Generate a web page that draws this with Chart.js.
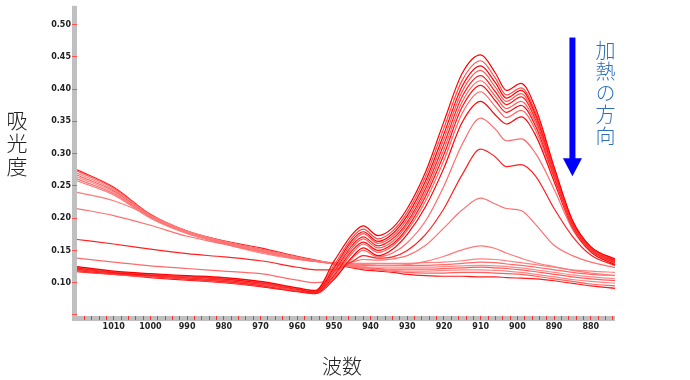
<!DOCTYPE html>
<html><head><meta charset="utf-8">
<script src="https://cdn.jsdelivr.net/npm/chart.js@4.4.1/dist/chart.umd.min.js"></script>
<style>
html,body{margin:0;padding:0;background:#fff;}
#wrap{position:relative;width:690px;height:380px;overflow:hidden;}
canvas{position:absolute;left:0;top:0;}
.lbl{position:absolute;font-family:"Noto Sans CJK JP","Noto Sans CJK SC",sans-serif;font-weight:300;line-height:1;}
#ylab{left:6px;top:110px;writing-mode:vertical-rl;font-size:21px;letter-spacing:2px;color:#222;}
#xlab{left:322px;top:356px;font-size:20px;color:#222;}
#note{left:595px;top:40px;writing-mode:vertical-rl;font-size:20px;letter-spacing:1.6px;color:#2e6fba;}
</style></head>
<body><div id="wrap"><canvas id="c" width="690" height="380"></canvas>
<div class="lbl" id="ylab">吸光度</div>
<div class="lbl" id="xlab">波数</div>
<div class="lbl" id="note">加熱の方向</div>
</div>
<script>
// wavenumbers (cm-1)
const waves = [1020,1010,1000,990,980,970,960,955,950,945,942,938,934,930,925,920,915,910,906,903,899,895,890,885,880,873];
// absorbance spectra, before heating (large peak) -> after heating (flat)
const p1 = [.125,.118,.114,.111,.108,.102,.092,.088,.133,.175,.188,.173,.185,.215,.272,.350,.425,.453,.425,.398,.409,.370,.280,.197,.156,.136];
const p2 = [.124,.117,.113,.110,.107,.101,.091,.087,.127,.170,.183,.168,.180,.209,.265,.340,.414,.444,.417,.391,.402,.364,.277,.196,.155,.135];
const p3 = [.123,.116,.112,.110,.106,.100,.090,.086,.123,.166,.179,.164,.176,.204,.258,.331,.405,.436,.410,.386,.398,.360,.275,.195,.155,.134];
const p4 = [.122,.116,.112,.109,.105,.099,.089,.086,.120,.162,.176,.161,.172,.199,.252,.323,.397,.429,.403,.381,.393,.356,.273,.194,.154,.133];
const p5 = [.121,.115,.111,.108,.104,.098,.089,.085,.117,.158,.171,.157,.168,.194,.246,.315,.389,.421,.396,.376,.388,.352,.271,.193,.153,.132];
const p6 = [.120,.115,.110,.107,.103,.097,.088,.085,.114,.154,.168,.154,.164,.190,.240,.307,.381,.413,.389,.370,.381,.347,.268,.192,.152,.131];
const p7 = [.119,.114,.110,.106,.102,.096,.087,.084,.111,.150,.163,.150,.160,.185,.234,.299,.373,.406,.382,.364,.375,.342,.265,.190,.151,.130];
const p8 = [.118,.113,.109,.105,.101,.095,.087,.084,.108,.146,.160,.147,.157,.181,.227,.290,.363,.396,.373,.356,.367,.336,.262,.188,.150,.129];
const p9 = [.117,.113,.108,.104,.100,.094,.086,.083,.105,.140,.154,.142,.152,.175,.218,.278,.349,.381,.360,.346,.357,.328,.257,.186,.148,.127];
const i1 = [.138,.132,.126,.122,.118,.114,.104,.100,.108,.138,.150,.140,.146,.162,.196,.250,.315,.355,.338,.320,.323,.300,.245,.183,.148,.128];
const i2 = [.167,.160,.152,.145,.140,.134,.124,.120,.120,.133,.142,.138,.140,.150,.175,.215,.268,.307,.295,.280,.283,.265,.215,.172,.143,.126];
const i3 = [.215,.204,.189,.172,.160,.148,.137,.133,.130,.132,.136,.135,.137,.142,.158,.185,.213,.231,.222,.215,.212,.190,.158,.142,.132,.123];
const i4 = [.240,.227,.204,.180,.164,.150,.139,.134,.130,.128,.128,.127,.127,.128,.133,.141,.151,.157,.153,.146,.138,.131,.125,.119,.115,.111];
const f7 = [.258,.236,.200,.176,.160,.146,.136,.133,.131,.130,.130,.130,.130,.130,.131,.132,.134,.137,.136,.134,.131,.128,.124,.120,.118,.116];
const f6 = [.261,.238,.201,.177,.161,.148,.137,.133,.130,.128,.127,.127,.127,.127,.127,.128,.130,.132,.131,.129,.127,.124,.120,.116,.113,.111];
const f5 = [.264,.240,.202,.178,.162,.149,.138,.133,.130,.127,.125,.124,.124,.124,.124,.125,.126,.127,.126,.125,.123,.120,.116,.112,.109,.106];
const f4 = [.267,.242,.203,.178,.163,.150,.138,.134,.130,.126,.124,.122,.121,.121,.121,.122,.123,.124,.123,.122,.120,.117,.113,.109,.106,.103];
const f3 = [.270,.244,.204,.179,.163,.151,.139,.134,.130,.125,.123,.121,.119,.118,.118,.119,.120,.120,.119,.118,.116,.113,.109,.105,.102,.099];
const f2 = [.273,.246,.205,.180,.164,.152,.140,.134,.129,.124,.122,.120,.118,.116,.115,.115,.116,.116,.115,.114,.113,.110,.106,.102,.098,.095];
const f1 = [.275,.248,.206,.180,.165,.154,.141,.135,.129,.123,.120,.118,.116,.113,.111,.110,.110,.109,.109,.108,.107,.106,.103,.099,.095,.091];

const seriesList = [p1,p2,p3,p4,p5,p6,p7,p8,p9,i1,i2,i3,i4,f7,f6,f5,f4,f3,f2,f1];
const seriesColors = ['#ff0000','#ff4a4a','#ff0000','#ff5555','#ff1a1a','#ff5a5a','#ff1010','#ff6060','#ff0000',
  '#ff6b6b','#ff2020','#ff7070','#ff7a7a','#ff8080','#ff6a6a','#ff8a8a','#ff5a5a','#ff8484','#ff6060','#ff1a1a'];

const yTickVals = [0.05,0.10,0.15,0.20,0.25,0.30,0.35,0.40,0.45,0.50];
const xTickVals = []; for (let w = 874; w <= 1018; w += 2) xTickVals.push(w);
const arrowAt = {x: 885, top: 0.48, base: 0.293, tip: 0.265};

const axisBars = {
  id: 'axisBars',
  beforeDraw(chart) {
    const {ctx, chartArea: a} = chart;
    ctx.save();
    ctx.fillStyle = '#c0c0c0';
    ctx.fillRect(a.left - 5, a.top, 5, a.bottom - a.top + 5);
    ctx.fillRect(a.left - 5, a.bottom, a.right - a.left + 5, 5);
    ctx.restore();
  },
  afterDraw(chart) {
    const {ctx} = chart;
    const xs = chart.scales.x, ys = chart.scales.y;
    const cx = xs.getPixelForValue(arrowAt.x);
    const yT = ys.getPixelForValue(arrowAt.top);
    const yB = ys.getPixelForValue(arrowAt.base);
    const yP = ys.getPixelForValue(arrowAt.tip);
    ctx.save();
    ctx.fillStyle = '#0000ff';
    ctx.fillRect(cx - 3, yT, 6, yB - yT + 1);
    ctx.beginPath();
    ctx.moveTo(cx - 9.5, yB); ctx.lineTo(cx + 9.5, yB); ctx.lineTo(cx, yP); ctx.closePath();
    ctx.fill();
    ctx.restore();
  }
};

const datasets = seriesList.map((s, k) => ({
  data: s.map((v, j) => ({x: waves[j], y: v})),
  borderColor: seriesColors[k],
  borderWidth: 1.2,
  pointRadius: 0,
  cubicInterpolationMode: 'monotone',
  fill: false
}));

new Chart(document.getElementById('c'), {
  type: 'line',
  data: {datasets},
  plugins: [axisBars],
  options: {
    responsive: false,
    animation: false,
    devicePixelRatio: 1,
    layout: {padding: {top: 3, right: 75, left: 0, bottom: 0}},
    plugins: {legend: {display: false}, tooltip: {enabled: false}},
    scales: {
      x: {
        type: 'linear', reverse: true, min: 873.4, max: 1020,
        border: {display: false},
        grid: {display: true, drawOnChartArea: false, drawTicks: true, tickLength: 4, tickColor: '#ff3030', color: '#ff3030'},
        afterBuildTicks: s => { s.ticks = xTickVals.map(v => ({value: v})); },
        afterFit: s => { s.height = 64; },
        ticks: {autoSkip: false, maxRotation: 0, padding: 2, color: '#222',
          font: {family: 'DejaVu Sans', size: 8, weight: 'bold'},
          callback: v => (v % 10 === 0 ? String(v) : '')}
      },
      y: {
        type: 'linear', min: 0.0484, max: 0.5292,
        border: {display: false},
        grid: {display: true, drawOnChartArea: false, drawTicks: true, tickLength: 5, tickColor: '#ff5050', color: '#ff5050'},
        afterBuildTicks: s => { s.ticks = yTickVals.map(v => ({value: v})); },
        afterFit: s => { s.width = 77; },
        ticks: {padding: 1, color: '#222',
          font: {family: 'DejaVu Sans', size: 8, weight: 'bold'},
          callback: v => (v > 0.07 ? v.toFixed(2) : '')}
      }
    }
  }
});
</script>
</body></html>
